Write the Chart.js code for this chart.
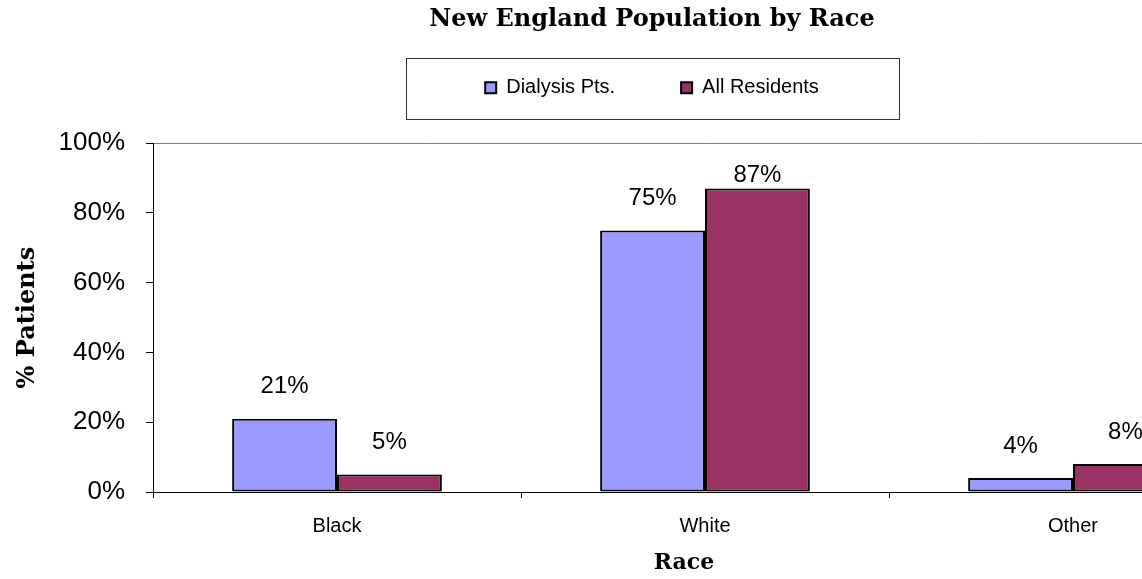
<!DOCTYPE html>
<html>
<head>
<meta charset="utf-8">
<script src="https://cdn.jsdelivr.net/npm/chart.js@4.4.0/dist/chart.umd.min.js"></script>
<style>
  html, body { margin: 0; padding: 0; background: #fff; overflow: hidden; }
  #raceChart { display: block; }
</style>
</head>
<body>
<canvas id="raceChart" width="1304" height="579"></canvas>
<script>
// chart values
const races = ["Black", "White", "Other"];
const dialysisPts = [21, 75, 4];
const allResidents = [5, 87, 8];
const yTicks = [0, 20, 40, 60, 80, 100];

const ctx = document.getElementById('raceChart').getContext('2d');

Chart.defaults.color = '#000';
Chart.defaults.font.family = '"Liberation Sans", Arial, sans-serif';

// value labels above bars, legend frame and the x axis title
const extrasPlugin = {
    id: 'extras',
    afterDatasetsDraw(chart) {
        const c = chart.ctx;
        c.save();
        c.font = '24px "Liberation Sans", Arial, sans-serif';
        c.fillStyle = '#000';
        c.textAlign = 'center';
        c.textBaseline = 'middle';
        chart.data.datasets.forEach((ds, i) => {
            chart.getDatasetMeta(i).data.forEach((bar, j) => {
                const y = Math.max(bar.y - 32, chart.chartArea.top + 32);
                c.fillText(ds.data[j] + '%', bar.x, y);
            });
        });
        c.restore();
    },
    afterDraw(chart) {
        const c = chart.ctx;
        const hb = chart.legend.legendHitBoxes[0];
        const cy = hb.top + hb.height / 2;
        const cx = chart.width / 2;
        c.save();
        c.strokeStyle = '#333';
        c.lineWidth = 1;
        c.strokeRect(Math.round(cx - 246) + 0.5, Math.round(cy - 30) + 0.5, 493, 61);

        c.font = 'bold 22px "DejaVu Serif", serif';
        c.fillStyle = '#000';
        c.textAlign = 'center';
        c.textBaseline = 'middle';
        c.fillText('Race', chart.chartArea.left + 531, 563);
        c.restore();
    }
};

const myChart = new Chart(ctx, {
    type: 'bar',
    data: {
        labels: races,
        datasets: [{
            label: 'Dialysis Pts.',
            data: dialysisPts,
            backgroundColor: '#9999FF',
            borderColor: '#000',
            borderWidth: 2,
            borderSkipped: false
        }, {
            label: 'All Residents',
            data: allResidents,
            backgroundColor: '#993366',
            borderColor: '#000',
            borderWidth: 2,
            borderSkipped: false
        }]
    },
    options: {
        responsive: false,
        animation: false,
        devicePixelRatio: 1,
        layout: { padding: 0 },
        categoryPercentage: 0.57,
        barPercentage: 1.0,
        plugins: {
            title: {
                display: true,
                text: 'New England Population by Race',
                font: { family: '"DejaVu Serif", serif', size: 24, weight: 'bold' },
                color: '#000',
                padding: { top: 5, bottom: -22 }
            },
            legend: {
                display: true,
                position: 'top',
                labels: {
                    boxWidth: 11,
                    boxHeight: 11,
                    padding: 66,
                    font: { size: 20 },
                    color: '#000'
                }
            },
            tooltip: { enabled: false }
        },
        scales: {
            x: {
                position: 'bottom',
                grid: { display: true, drawOnChartArea: false, offset: true, tickLength: 6, color: '#000' },
                border: { display: true, color: '#000', width: 1 },
                ticks: { font: { size: 20 }, color: '#000', padding: 16 },
                afterFit(s) { s.height = 87; }
            },
            xTop: {
                type: 'category',
                position: 'top',
                grid: { display: true, drawOnChartArea: false, drawTicks: false },
                border: { display: true, color: '#808080', width: 1 },
                ticks: { display: false },
                afterFit(s) { s.height = 35.4; }
            },
            y: {
                position: 'left',
                min: 0,
                max: 100,
                afterBuildTicks(s) { s.ticks = yTicks.map(v => ({ value: v })); },
                grid: { display: true, drawOnChartArea: false, tickLength: 7, color: '#000' },
                border: { display: true, color: '#000', width: 1 },
                ticks: {
                    font: { size: 26 },
                    color: '#000',
                    padding: 21,
                    callback: v => v + '%'
                },
                title: {
                    display: true,
                    text: '% Patients',
                    font: { family: '"DejaVu Serif", serif', size: 24, weight: 'bold' },
                    color: '#000',
                    padding: { top: 13, bottom: 0 }
                },
                afterFit(s) { s.width = 153; }
            },
            yRight: {
                type: 'linear',
                position: 'right',
                grid: { display: false },
                border: { display: false },
                ticks: { display: false },
                afterFit(s) { s.width = 47; }
            }
        }
    },
    plugins: [extrasPlugin]
});
</script>
</body>
</html>
